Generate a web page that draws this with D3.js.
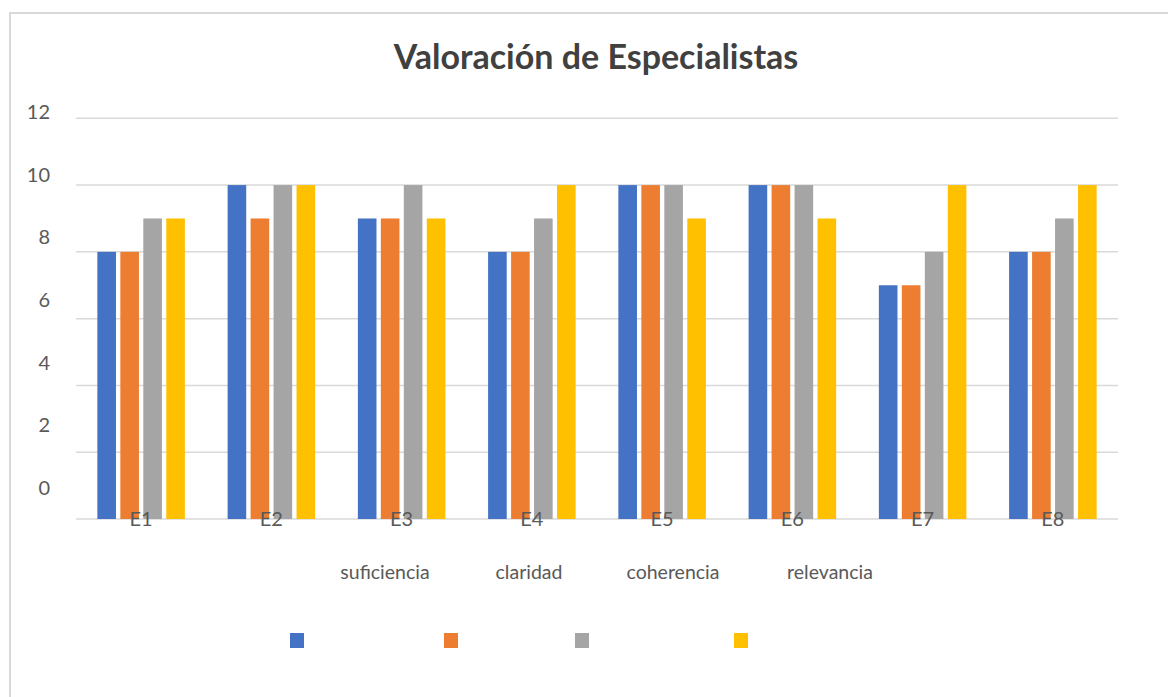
<!DOCTYPE html>
<html lang="es">
<head>
<meta charset="UTF-8">
<title>Valoración de Especialistas</title>
<script src="https://d3js.org/d3.v7.min.js"></script>
<style>
  body { margin: 0; background: #fff; }
  svg { display: block; font-family: Lato, "Noto Sans", sans-serif; }
  .ylab, .xlab, .leglab { fill: #595959; }
</style>
</head>
<body>
<div id="chart"></div>
<script>
// data
const experts = ["E1", "E2", "E3", "E4", "E5", "E6", "E7", "E8"];
const criteria = ["suficiencia", "claridad", "coherencia", "relevancia"];
const suficiencia = [8, 10, 9, 8, 10, 10, 7, 8];
const claridad    = [8, 9, 9, 8, 10, 10, 7, 8];
const coherencia  = [9, 10, 10, 9, 10, 10, 8, 9];
const relevancia  = [9, 10, 9, 10, 9, 9, 10, 10];
const yTicks = [0, 2, 4, 6, 8, 10, 12];
const colors = ["#4472c4", "#ed7d31", "#a5a5a5", "#ffc000"];

const series = [suficiencia, claridad, coherencia, relevancia];
const rows = experts.map((e, i) => ({ expert: e, values: series.map(s => s[i]) }));

const width = 1168, height = 697;
const plot = { left: 76, right: 1118, top: 118.3, bottom: 519 };

const svg = d3.select("#chart").append("svg")
  .attr("width", width).attr("height", height);

// outer frame
svg.append("rect")
  .attr("x", 10).attr("y", 13)
  .attr("width", width + 20).attr("height", height + 20)
  .attr("fill", "none").attr("stroke", "#d9d9d9").attr("stroke-width", 2);

// title
svg.append("text")
  .attr("x", 596).attr("y", 69)
  .attr("text-anchor", "middle")
  .attr("font-weight", "bold")
  .attr("font-size", 34)
  .attr("fill", "#404040")
  .text("Valoración de Especialistas");

const y = d3.scaleLinear().domain([0, 12]).range([plot.bottom, plot.top]);
// tick labels sit slightly off their gridlines in the original
const yLabel = d3.scaleLinear().domain([0, 12]).range([488, 112]);

const x0 = d3.scaleBand().domain(experts).range([plot.left, plot.right])
  .paddingInner(0.328).paddingOuter(0.164);
const x1 = d3.scaleBand().domain(criteria).range([0, x0.bandwidth()]).paddingInner(0.19);

// gridlines
svg.append("g").selectAll("line")
  .data(yTicks)
  .join("line")
  .attr("x1", plot.left).attr("x2", plot.right)
  .attr("y1", d => y(d)).attr("y2", d => y(d))
  .attr("stroke", "#d9d9d9").attr("stroke-width", 1.5);

svg.append("g").selectAll("text")
  .data(yTicks)
  .join("text")
  .attr("class", "ylab")
  .attr("x", 50).attr("y", d => yLabel(d))
  .attr("dy", "0.35em")
  .attr("text-anchor", "end")
  .attr("font-size", 20)
  .text(d => d);

// bars
const groups = svg.append("g").selectAll("g")
  .data(rows)
  .join("g")
  .attr("transform", d => `translate(${x0(d.expert)},0)`);

groups.selectAll("rect")
  .data(d => d.values.map((v, k) => ({ key: criteria[k], value: v, k })))
  .join("rect")
  .attr("x", d => x1(d.key))
  .attr("y", d => y(d.value))
  .attr("width", x1.bandwidth())
  .attr("height", d => y(0) - y(d.value))
  .attr("fill", d => colors[d.k]);

// category labels overlapping the baseline
svg.append("g").selectAll("text")
  .data(experts)
  .join("text")
  .attr("class", "xlab")
  .attr("x", d => x0(d) + x0.bandwidth() / 2)
  .attr("y", plot.bottom)
  .attr("dy", "0.35em")
  .attr("text-anchor", "middle")
  .attr("font-size", 20)
  .text(d => d);

// legend: labels and swatches are detached in the original
const legendLabelX = [385, 529, 673, 830];
const legendSwatchX = [290, 444, 575, 734];

svg.append("g").selectAll("text")
  .data(criteria)
  .join("text")
  .attr("class", "leglab")
  .attr("x", (d, i) => legendLabelX[i])
  .attr("y", 572)
  .attr("dy", "0.35em")
  .attr("text-anchor", "middle")
  .attr("font-size", 19.5)
  .text(d => d);

svg.append("g").selectAll("rect")
  .data(criteria)
  .join("rect")
  .attr("x", (d, i) => legendSwatchX[i])
  .attr("y", 633)
  .attr("width", 14).attr("height", 15)
  .attr("fill", (d, i) => colors[i]);
</script>
</body>
</html>
